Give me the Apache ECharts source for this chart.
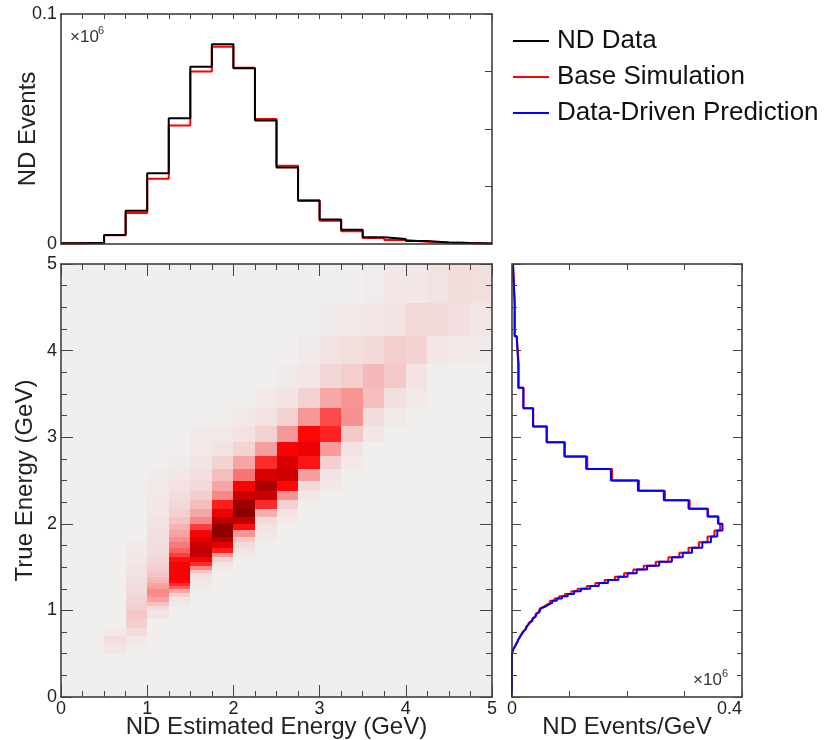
<!DOCTYPE html>
<html><head><meta charset="utf-8">
<script src="https://cdn.jsdelivr.net/npm/echarts@6/dist/echarts.min.js"></script>
<style>html,body{margin:0;padding:0;background:#fff}#c{width:839px;height:740px}</style>
</head><body><div id="c"></div>
<script>
// ---- reconstructed-energy bins (GeV) ----
const recoEdges = [0,0.25,0.5,0.75,1,1.25,1.5,1.75,2,2.25,2.5,2.75,3,3.25,3.5,3.75,4,4.25,4.5,4.75,5];
// top panel: ND events per bin (x10^6)
const ndData  = [0.0003,0.0005,0.0039,0.0145,0.0308,0.0547,0.0771,0.0868,0.0764,0.0537,0.0333,0.0188,0.0106,0.0062,0.0029,0.0022,0.0013,0.0007,0.0004,0.0002];
const baseSim = [0.0003,0.0004,0.0038,0.0135,0.0284,0.0515,0.0750,0.0858,0.0766,0.0544,0.0340,0.0190,0.0101,0.0055,0.0026,0.0017,0.0010,0.0006,0.0004,0.0002];

// ---- true-energy bins (GeV) for the right panel ----
const trueEdges = [0,0.500,0.505,0.510,0.515,0.521,0.526,0.532,0.538,0.543,0.549,
 0.556,0.562,0.568,0.575,0.581,0.588,0.595,0.602,0.610,0.617,
 0.625,0.633,0.641,0.649,0.658,0.667,0.676,0.685,0.694,0.704,
 0.714,0.725,0.735,0.746,0.758,0.769,0.781,0.794,0.806,0.820,
 0.833,0.847,0.862,0.877,0.893,0.909,0.926,0.943,0.962,0.980,
 1.000,1.020,1.042,1.064,1.087,1.111,1.136,1.163,1.190,1.220,
 1.250,1.282,1.316,1.351,1.389,1.429,1.471,1.515,1.563,1.613,
 1.667,1.724,1.786,1.852,1.923,2.000,2.083,2.174,2.273,2.381,
 2.500,2.632,2.778,2.941,3.125,3.333,3.571,3.846,4.167,4.545,5.000];
// ND events / GeV (x10^6) per true-energy bin
const ddPred = [0,
 0.0001,0.0002,0.0004,0.0007,0.0009,0.0012,0.0015,0.0019,0.0022,0.0026,
 0.0030,0.0035,0.0039,0.0044,0.0049,0.0054,0.0059,0.0065,0.0071,0.0078,
 0.0084,0.0091,0.0098,0.0106,0.0114,0.0122,0.0130,0.0139,0.0148,0.0158,
 0.0168,0.0178,0.0189,0.0201,0.0213,0.0225,0.0239,0.0252,0.0267,0.0282,
 0.0297,0.0313,0.0331,0.0349,0.0368,0.0388,0.0408,0.0430,0.0453,0.0477,
 0.050,0.053,0.057,0.063,0.070,0.078,0.087,0.097,0.108,0.120,
 0.136,0.151,0.167,0.185,0.201,0.217,0.235,0.256,0.278,0.297,
 0.313,0.331,0.346,0.357,0.366,
 0.359,0.340,0.307,0.264,0.219,0.172,0.129,0.091,0.060,0.0365,0.0197,0.011,0.0081,0.0046,0.0017];
const baseSimTrue = [0,
 0.0001,0.0002,0.0004,0.0007,0.0009,0.0012,0.0015,0.0018,0.0021,0.0025,
 0.0029,0.0034,0.0038,0.0043,0.0047,0.0052,0.0057,0.0063,0.0069,0.0076,
 0.0082,0.0088,0.0095,0.0103,0.0111,0.0118,0.0126,0.0135,0.0144,0.0153,
 0.0163,0.0173,0.0183,0.0195,0.0207,0.0218,0.0232,0.0244,0.0259,0.0274,
 0.0288,0.0304,0.0321,0.0339,0.0357,0.0376,0.0396,0.0417,0.0440,0.0463,
 0.048,0.051,0.055,0.060,0.066,0.074,0.082,0.092,0.103,0.114,
 0.130,0.145,0.161,0.179,0.195,0.211,0.229,0.250,0.272,0.291,
 0.307,0.325,0.340,0.352,0.362,
 0.358,0.341,0.309,0.266,0.221,0.174,0.131,0.092,0.061,0.0370,0.0200,0.0115,0.0083,0.0047,0.0018];

// ---- 2D histogram: true-energy rows (GeV) and per-column contents ----
const heatYEdges = [0.5,0.6,0.7,0.8,0.9,1.0,1.05,1.1,1.15,1.2,1.25,1.282,1.316,1.351,1.389,1.429,1.471,1.515,1.563,1.613,1.667,1.724,1.786,1.852,1.923,2.0,2.083,2.174,2.273,2.381,2.5,2.632,2.778,2.941,3.125,3.333,3.571,3.846,4.167,4.545,5.0];
const heatStart = [0,0,0,1,4,6,10,16,19,22,25,28,29,31,33,34,35,37,37,37];
const heatCols = [
 [],
 [],
 [4,8,3],
 [3,9,15,19,15,14,13,11,10,9,9,7,7,6,6,6,4,4,3,3,2],
 [5,10,21,32,38,40,34,32,26,23,20,17,15,13,12,10,9,8,7,7,6,6,4,4,3,3,2],
 [2,5,14,30,50,62,70,72,73,73,72,72,68,58,50,44,38,32,26,20,15,11,8,6,4,2],
 [2,3,3,4,8,20,40,62,75,86,88,85,80,72,58,40,30,22,16,11,8,5,3,2],
 [2,6,14,33,65,78,91,99,99,88,76,65,40,31,22,13,6,3],
 [3,6,10,18,36,68,88,99,96,85,72,45,31,13,6,3],
 [3,4,6,10,27,62,85,93,82,62,33,14,6,3],
 [3,6,14,36,70,85,82,72,35,14,6,2],
 [4,10,33,67,76,70,35,14,4,2],
 [3,5,15,34,64,55,30,12,6,2],
 [3,6,18,37,36,16,8,3],
 [4,9,22,24,10,4,1],
 [3,7,18,15,6,4],
 [3,6,13,11,4],
 [4,10,6],
 [3,7,9],
 [2,4,8]
];

const FONT = "'Liberation Sans', Arial, Helvetica, sans-serif";
const TXT = '#222';

// ---- build series data from the arrays ----
const histPts = vals => recoEdges.map((e, i) => [e, vals[Math.min(i, vals.length - 1)]]);
const vertStep = vals => {
  const pts = [];
  vals.forEach((v, i) => { pts.push([v, trueEdges[i]]); pts.push([v, trueEdges[i + 1]]); });
  return pts;
};
const heatData = [];
heatCols.forEach((col, i) => {
  col.forEach((v, k) => {
    const r = heatStart[i] + k;
    if (v > 0) heatData.push([recoEdges[i], recoEdges[i + 1], heatYEdges[r], heatYEdges[r + 1], v]);
  });
});

// ---- axes ----
const base = (o) => Object.assign({
  type: 'value', z: 10, nameMoveOverlap: false,
  axisLine: { show: true, onZero: false, lineStyle: { color: '#333', width: 1.5 } },
  splitLine: { show: false },
  axisTick: { show: false },
  axisLabel: { show: false },
  nameTextStyle: { fontSize: 24, color: TXT, fontFamily: FONT }
}, o);
const tick = (len, minorLen) => ({
  axisTick: { show: true, inside: true, length: len, lineStyle: { color: '#444', width: 1 } },
  minorTick: minorLen ? { show: true, inside: true, splitNumber: 4, length: minorLen, lineStyle: { color: '#444', width: 1 } } : { show: false }
});
const lab = (fmt, extra) => ({ axisLabel: Object.assign({ show: true, fontSize: 18, color: TXT, fontFamily: FONT, margin: 4, formatter: fmt }, extra || {}) });

const xAxis = [
  base({ gridIndex: 0, position: 'bottom', min: 0, max: 5, interval: 1 }),
  base(Object.assign({ gridIndex: 0, position: 'top', min: 0, max: 5, interval: 0.25 }, tick(5))),
  base(Object.assign({ gridIndex: 1, position: 'bottom', min: 0, max: 5, interval: 1,
    name: 'ND Estimated Energy (GeV)', nameLocation: 'middle', nameGap: 18 }, tick(12, 6), lab(v => String(v), { margin: 3 }))),
  base(Object.assign({ gridIndex: 1, position: 'top', min: 0, max: 5, interval: 1 }, tick(12, 6))),
  base(Object.assign({ gridIndex: 2, position: 'bottom', min: 0, max: 0.4, interval: 0.1,
    name: 'ND Events/GeV', nameLocation: 'middle', nameGap: 18 }, tick(6),
    lab(v => v === 0 ? '0' : (Math.abs(v - 0.4) < 1e-9 ? '0.4' : ''), { alignMaxLabel: 'right', margin: 3 }))),
  base(Object.assign({ gridIndex: 2, position: 'top', min: 0, max: 0.4, interval: 0.1 }, tick(6)))
];
const yAxis = [
  base(Object.assign({ gridIndex: 0, position: 'left', min: 0, max: 0.1, interval: 0.025,
    name: 'ND Events', nameLocation: 'middle', nameGap: 21 },
    lab(v => v === 0 ? '0' : (Math.abs(v - 0.1) < 1e-9 ? '0.1' : '')))),
  base(Object.assign({ gridIndex: 0, position: 'right', min: 0, max: 0.1, interval: 0.025 }, tick(7))),
  base(Object.assign({ gridIndex: 1, position: 'left', min: 0, max: 5, interval: 1,
    name: 'True Energy (GeV)', nameLocation: 'middle', nameGap: 24 }, tick(12, 6), lab(v => String(v)))),
  base(Object.assign({ gridIndex: 1, position: 'right', min: 0, max: 5, interval: 1 }, tick(12, 6))),
  base(Object.assign({ gridIndex: 2, position: 'left', min: 0, max: 5, interval: 1 }, tick(9, 5))),
  base(Object.assign({ gridIndex: 2, position: 'right', min: 0, max: 5, interval: 1 }, tick(9, 5)))
];

const lineS = (name, color, xi, yi, data, step) => ({
  name, type: 'line', xAxisIndex: xi, yAxisIndex: yi, data, step: step || false,
  symbol: 'none', showSymbol: false, animation: false, clip: true, z: 3,
  lineStyle: { color, width: 2 }, itemStyle: { color }
});

const series = [
  {
    name: 'heat', type: 'custom', xAxisIndex: 2, yAxisIndex: 2, data: heatData, z: 1,
    encode: { x: [0, 1], y: [2, 3] }, animation: false,
    renderItem: (params, api) => {
      const p0 = api.coord([api.value(0), api.value(3)]);
      const p1 = api.coord([api.value(1), api.value(2)]);
      const x = Math.round(p0[0]), y = Math.round(p0[1]);
      return { type: 'rect', shape: { x, y, width: Math.round(p1[0]) - x, height: Math.round(p1[1]) - y },
        style: { fill: api.visual('color') } };
    }
  },
  lineS('Base Simulation', '#ff0000', 0, 0, histPts(baseSim), 'end'),
  lineS('ND Data', '#000000', 0, 0, histPts(ndData), 'end'),
  lineS('Base Simulation', '#ff0000', 4, 4, vertStep(baseSimTrue)),
  lineS('Data-Driven Prediction', '#0000ff', 4, 4, vertStep(ddPred))
];

const gridBase = { containLabel: false, outerBoundsMode: 'none' };
const chart = echarts.init(document.getElementById('c'), null, { renderer: 'canvas' });
chart.setOption({
  animation: false,
  backgroundColor: '#ffffff',
  textStyle: { fontFamily: FONT },
  grid: [
    Object.assign({ left: 61, top: 14, width: 431, height: 230 }, gridBase),
    Object.assign({ left: 61, top: 264, width: 431, height: 433, show: true, backgroundColor: '#f1efee', borderWidth: 0 }, gridBase),
    Object.assign({ left: 512, top: 264, width: 230, height: 433 }, gridBase)
  ],
  xAxis, yAxis,
  visualMap: {
    show: false, type: 'continuous', min: 0, max: 100, dimension: 4, seriesIndex: 0,
    inRange: { color: ['#f1eeee', '#f3dada', '#f5c4c4', '#f6a8a8', '#f88888', '#fa6262', '#fd3535', '#ff0505', '#e00000', '#b80000', '#880000'] }
  },
  legend: {
    data: ['ND Data', 'Base Simulation', 'Data-Driven Prediction'],
    orient: 'vertical', left: 513, top: 27, icon: 'rect', itemWidth: 36, itemHeight: 2,
    itemGap: 8, selectedMode: false, padding: 0,
    textStyle: { fontSize: 26, color: '#111', fontFamily: FONT, lineHeight: 28, padding: [0, 0, 0, 3] }
  },
  graphic: [
    { type: 'text', left: 70, top: 29, style: { text: '×10', fontSize: 17, fontFamily: FONT, fill: '#333' } },
    { type: 'text', left: 98, top: 25, style: { text: '6', fontSize: 11, fontFamily: FONT, fill: '#333' } },
    { type: 'text', left: 693, top: 672, style: { text: '×10', fontSize: 17, fontFamily: FONT, fill: '#333' } },
    { type: 'text', left: 722, top: 668, style: { text: '6', fontSize: 11, fontFamily: FONT, fill: '#333' } }
  ],
  series
});
</script>
</body></html>
